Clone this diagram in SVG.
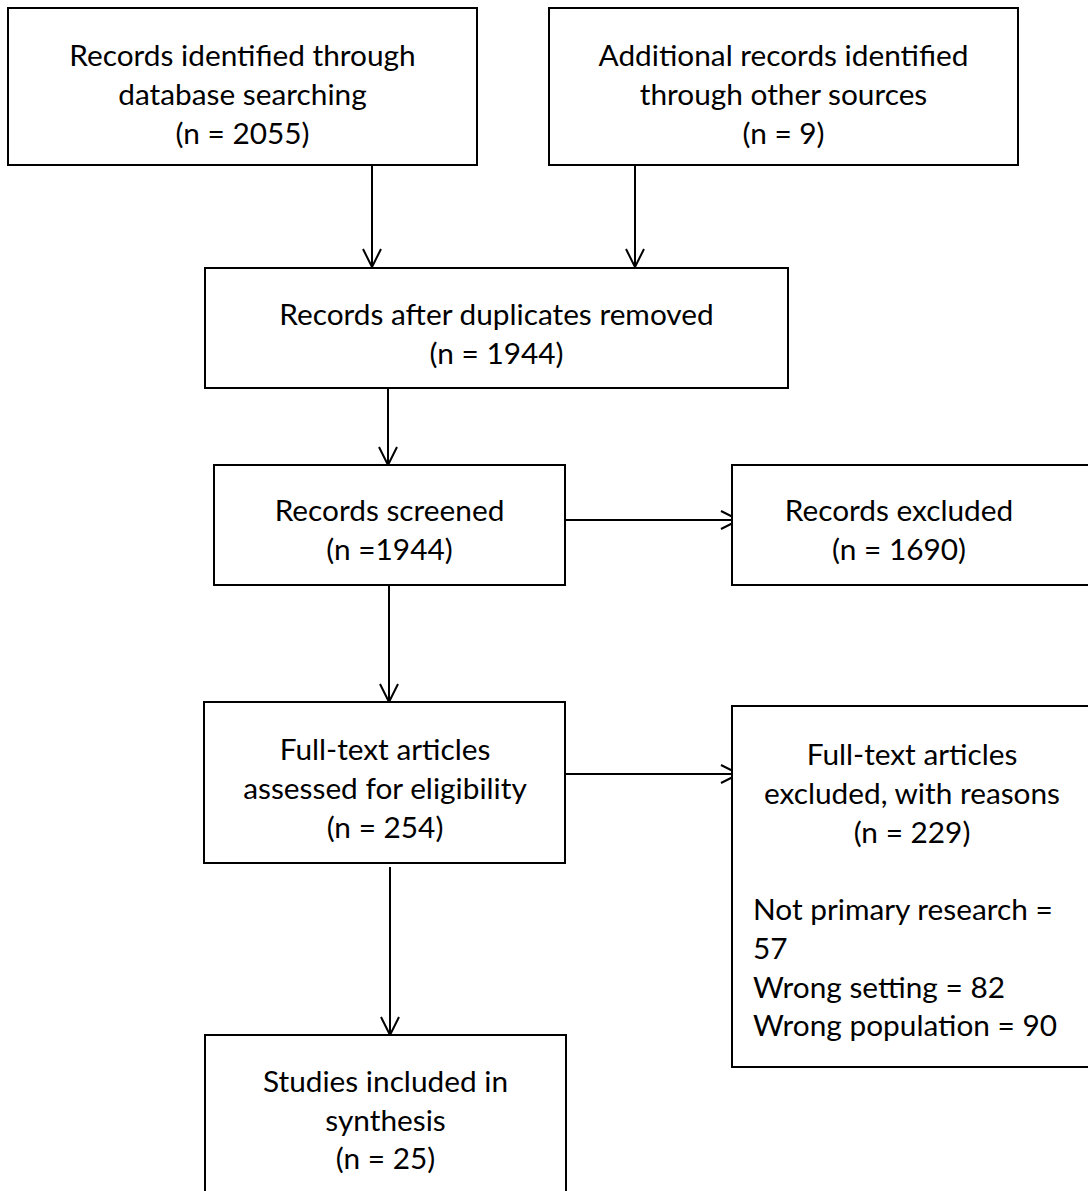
<svg xmlns="http://www.w3.org/2000/svg" width="1088" height="1191" viewBox="0 0 1088 1191">
<style>
.box{fill:#fff;stroke:#000;stroke-width:2}
.t{font-family:Lato,"Liberation Sans",sans-serif;font-size:29.8px;fill:#000;text-anchor:middle}
.l{text-anchor:start}
.c{fill:none;stroke:#000;stroke-width:2}
</style>
<defs>
<marker id="ah" markerUnits="userSpaceOnUse" markerWidth="22" markerHeight="22" refX="18" refY="9" orient="auto" overflow="visible">
<path d="M0,0 L18,9 L0,18" fill="none" stroke="#000" stroke-width="2"/>
</marker>
</defs>
<rect width="1088" height="1191" fill="#fff"/>
<g id="connectors">
<line class="c" x1="372" y1="166" x2="372" y2="267" marker-end="url(#ah)"/>
<line class="c" x1="635" y1="166" x2="635" y2="267" marker-end="url(#ah)"/>
<line class="c" x1="388" y1="389" x2="388" y2="465" marker-end="url(#ah)"/>
<line class="c" x1="566" y1="520" x2="739" y2="520" marker-end="url(#ah)"/>
<line class="c" x1="389" y1="586" x2="389" y2="702" marker-end="url(#ah)"/>
<line class="c" x1="566" y1="774" x2="739" y2="774" marker-end="url(#ah)"/>
<line class="c" x1="390" y1="867" x2="390" y2="1035" marker-end="url(#ah)"/>
</g>
<g id="n1">
<rect class="box" x="8" y="8" width="469" height="157"/>
<text class="t" x="242.5" y="66">Records identified through</text>
<text class="t" x="242.5" y="105">database searching</text>
<text class="t" x="242.5" y="144">(n = 2055)</text>
</g>
<g id="n2">
<rect class="box" x="549" y="8" width="469" height="157"/>
<text class="t" x="783.5" y="66">Additional records identified</text>
<text class="t" x="783.5" y="105">through other sources</text>
<text class="t" x="783.5" y="144">(n = 9)</text>
</g>
<g id="n3">
<rect class="box" x="205" y="268" width="583" height="120"/>
<text class="t" x="496.5" y="325">Records after duplicates removed</text>
<text class="t" x="496.5" y="364">(n = 1944)</text>
</g>
<g id="n4">
<rect class="box" x="214" y="465" width="351" height="120"/>
<text class="t" x="389.5" y="521">Records screened</text>
<text class="t" x="389.5" y="560">(n =1944)</text>
</g>
<g id="n5">
<rect class="box" x="732" y="465" width="365" height="120"/>
<text class="t" x="899" y="521">Records excluded</text>
<text class="t" x="899" y="560">(n = 1690)</text>
</g>
<g id="n6">
<rect class="box" x="204" y="702" width="361" height="161"/>
<text class="t" x="385" y="760">Full-text articles</text>
<text class="t" x="385" y="799">assessed for eligibility</text>
<text class="t" x="385" y="838">(n = 254)</text>
</g>
<g id="n7">
<rect class="box" x="732" y="706" width="365" height="361"/>
<text class="t" x="912" y="765">Full-text articles</text>
<text class="t" x="912" y="804">excluded, with reasons</text>
<text class="t" x="912" y="843">(n = 229)</text>
<text class="t l" x="753" y="920">Not primary research =</text>
<text class="t l" x="753" y="959">57</text>
<text class="t l" x="753" y="998">Wrong setting = 82</text>
<text class="t l" x="753" y="1036">Wrong population = 90</text>
</g>
<g id="n8">
<rect class="box" x="205" y="1035" width="361" height="170"/>
<text class="t" x="385.5" y="1092">Studies included in</text>
<text class="t" x="385.5" y="1131">synthesis</text>
<text class="t" x="385.5" y="1169">(n = 25)</text>
</g>
</svg>
